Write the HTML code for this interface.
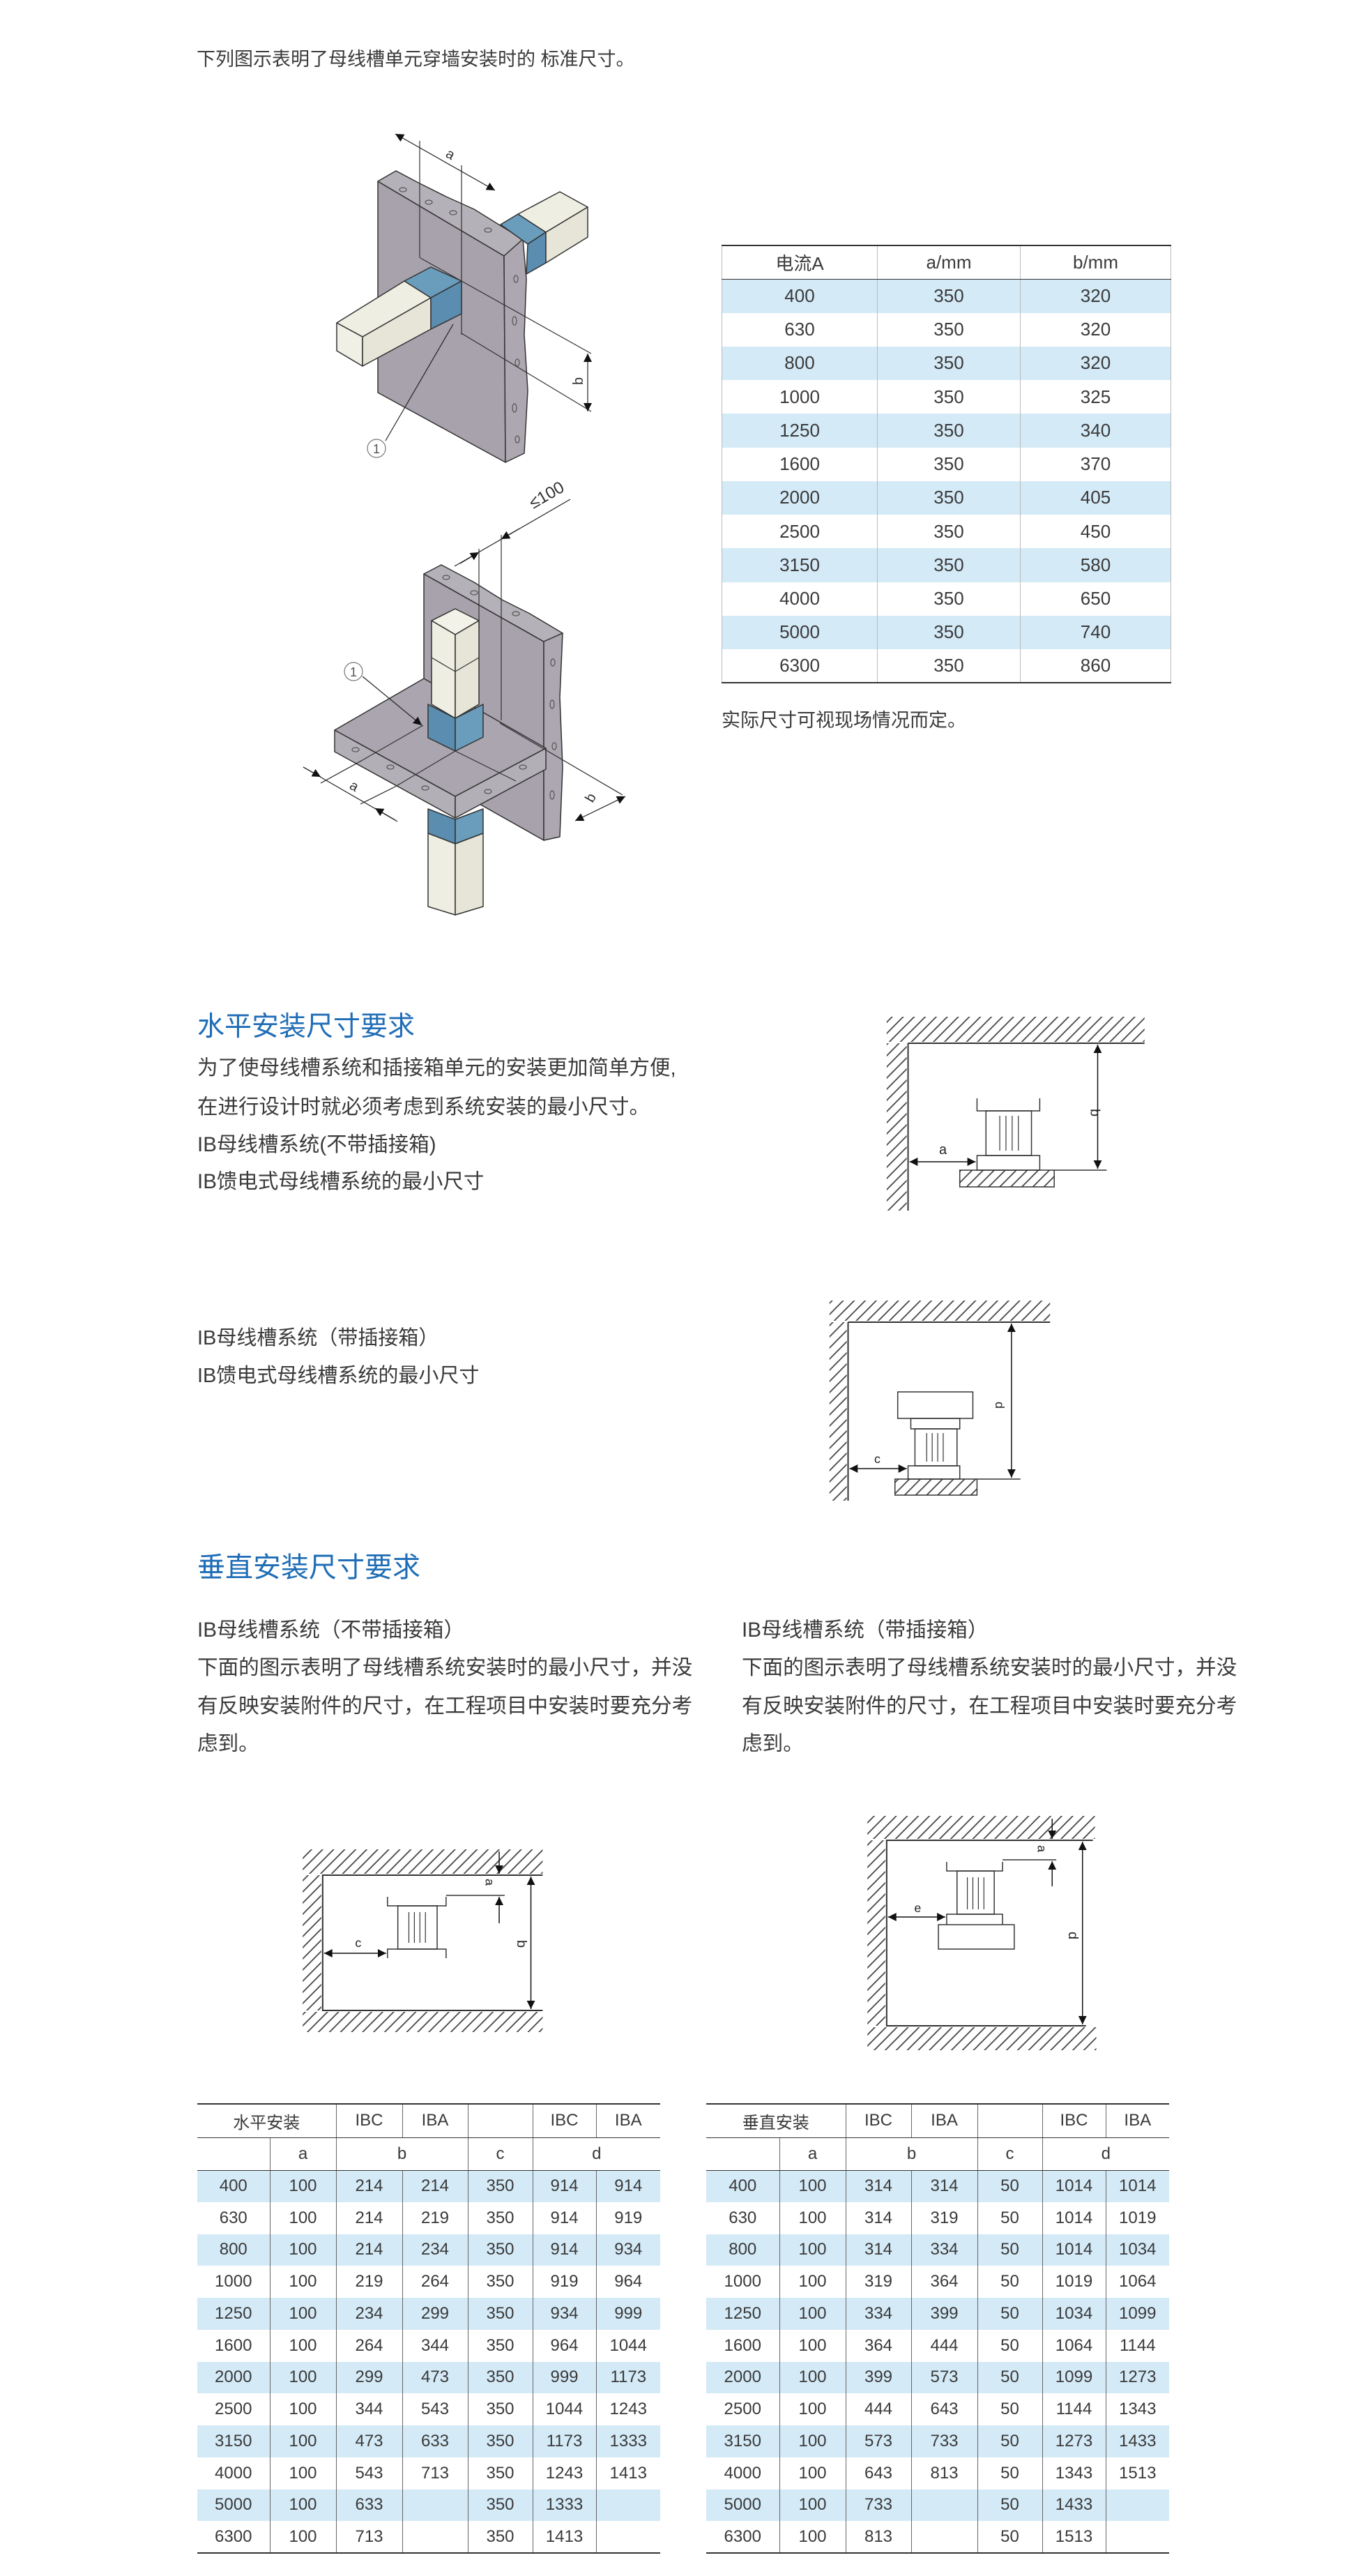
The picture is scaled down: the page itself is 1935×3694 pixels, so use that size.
<!DOCTYPE html>
<html><head><meta charset="utf-8">
<style>
*{margin:0;padding:0;box-sizing:border-box}
body{width:1935px;height:3694px;position:relative;background:#fff;font-family:"Liberation Sans","Noto Sans CJK SC",sans-serif;color:#3a3a3a;overflow:hidden}
.t{position:absolute;white-space:nowrap}
.h{color:#1f6db6}
table{position:absolute;border-collapse:collapse;table-layout:fixed;font-family:"Liberation Sans","Noto Sans CJK SC",sans-serif;color:#3a3a3a;text-align:center}
td{padding:0;border-left:1px solid #666;border-right:1px solid #666}
td:first-child{border-left:none}
tr td:last-child{border-right:none}
.b td{background:#d4eaf7}
#t1{left:1035px;top:351px;width:644px;font-size:26px;border-top:2px solid #333;border-bottom:2px solid #333}
#t1 tr{height:48.25px}
#t1 td{border-left:1px solid #bbb;border-right:1px solid #bbb}
#t1 tr.hd td{border-bottom:1px solid #333}
.bt{top:3016px;font-size:24px;border-top:2px solid #333;border-bottom:2px solid #333}
.bt tr{height:45.75px}
.bt tr.hd{height:48px}
.bt tr.hd td,.bt tr.sh td{border-bottom:1.5px solid #333}
.bt tr.sh{height:47px}
</style></head><body>

<div class="t" style="left:282px;top:68px;font-size:27px;line-height:34px">下列图示表明了母线槽单元穿墙安装时的 标准尺寸。</div>
<div class="t" style="left:1035px;top:1016px;font-size:27px;line-height:34px">实际尺寸可视现场情况而定。</div>

<div class="t h" style="left:283px;top:1450px;font-size:39px;line-height:46px">水平安装尺寸要求</div>
<div class="t" style="left:283px;top:1515px;font-size:29.5px;line-height:34px">为了使母线槽系统和插接箱单元的安装更加简单方便,</div>
<div class="t" style="left:283px;top:1571px;font-size:29.5px;line-height:34px">在进行设计时就必须考虑到系统安装的最小尺寸。</div>
<div class="t" style="left:283px;top:1625px;font-size:29.5px;line-height:34px">IB母线槽系统(不带插接箱)</div>
<div class="t" style="left:283px;top:1678px;font-size:29.5px;line-height:34px">IB馈电式母线槽系统的最小尺寸</div>
<div class="t" style="left:283px;top:1902px;font-size:29px;line-height:34px">IB母线槽系统（带插接箱）</div>
<div class="t" style="left:283px;top:1956px;font-size:29px;line-height:34px">IB馈电式母线槽系统的最小尺寸</div>

<div class="t h" style="left:283px;top:2225px;font-size:40px;line-height:46px">垂直安装尺寸要求</div>
<div class="t" style="left:283px;top:2320px;font-size:29.6px;line-height:36px">IB母线槽系统（不带插接箱）</div>
<div class="t" style="left:283px;top:2374px;font-size:29.6px;line-height:36px">下面的图示表明了母线槽系统安装时的最小尺寸，并没</div>
<div class="t" style="left:283px;top:2429px;font-size:29.6px;line-height:36px">有反映安装附件的尺寸，在工程项目中安装时要充分考</div>
<div class="t" style="left:283px;top:2483px;font-size:29.6px;line-height:36px">虑到。</div>
<div class="t" style="left:1064px;top:2320px;font-size:29.6px;line-height:36px">IB母线槽系统（带插接箱）</div>
<div class="t" style="left:1064px;top:2374px;font-size:29.6px;line-height:36px">下面的图示表明了母线槽系统安装时的最小尺寸，并没</div>
<div class="t" style="left:1064px;top:2429px;font-size:29.6px;line-height:36px">有反映安装附件的尺寸，在工程项目中安装时要充分考</div>
<div class="t" style="left:1064px;top:2483px;font-size:29.6px;line-height:36px">虑到。</div>

<table id="t1">
<colgroup><col style="width:223px"><col style="width:205px"><col style="width:216px"></colgroup>
<tr class="hd"><td>电流A</td><td>a/mm</td><td>b/mm</td></tr>
<tr class="b"><td>400</td><td>350</td><td>320</td></tr>
<tr><td>630</td><td>350</td><td>320</td></tr>
<tr class="b"><td>800</td><td>350</td><td>320</td></tr>
<tr><td>1000</td><td>350</td><td>325</td></tr>
<tr class="b"><td>1250</td><td>350</td><td>340</td></tr>
<tr><td>1600</td><td>350</td><td>370</td></tr>
<tr class="b"><td>2000</td><td>350</td><td>405</td></tr>
<tr><td>2500</td><td>350</td><td>450</td></tr>
<tr class="b"><td>3150</td><td>350</td><td>580</td></tr>
<tr><td>4000</td><td>350</td><td>650</td></tr>
<tr class="b"><td>5000</td><td>350</td><td>740</td></tr>
<tr><td>6300</td><td>350</td><td>860</td></tr>
</table>

<table class="bt" style="left:283px;width:664px">
<colgroup><col style="width:104px"><col style="width:95px"><col style="width:95px"><col style="width:94px"><col style="width:93px"><col style="width:91px"><col style="width:92px"></colgroup>
<tr class="hd"><td colspan="2">水平安装</td><td>IBC</td><td>IBA</td><td></td><td>IBC</td><td>IBA</td></tr>
<tr class="sh"><td></td><td>a</td><td colspan="2">b</td><td>c</td><td colspan="2">d</td></tr>
<tr class="b"><td>400</td><td>100</td><td>214</td><td>214</td><td>350</td><td>914</td><td>914</td></tr>
<tr><td>630</td><td>100</td><td>214</td><td>219</td><td>350</td><td>914</td><td>919</td></tr>
<tr class="b"><td>800</td><td>100</td><td>214</td><td>234</td><td>350</td><td>914</td><td>934</td></tr>
<tr><td>1000</td><td>100</td><td>219</td><td>264</td><td>350</td><td>919</td><td>964</td></tr>
<tr class="b"><td>1250</td><td>100</td><td>234</td><td>299</td><td>350</td><td>934</td><td>999</td></tr>
<tr><td>1600</td><td>100</td><td>264</td><td>344</td><td>350</td><td>964</td><td>1044</td></tr>
<tr class="b"><td>2000</td><td>100</td><td>299</td><td>473</td><td>350</td><td>999</td><td>1173</td></tr>
<tr><td>2500</td><td>100</td><td>344</td><td>543</td><td>350</td><td>1044</td><td>1243</td></tr>
<tr class="b"><td>3150</td><td>100</td><td>473</td><td>633</td><td>350</td><td>1173</td><td>1333</td></tr>
<tr><td>4000</td><td>100</td><td>543</td><td>713</td><td>350</td><td>1243</td><td>1413</td></tr>
<tr class="b"><td>5000</td><td>100</td><td>633</td><td></td><td>350</td><td>1333</td><td></td></tr>
<tr><td>6300</td><td>100</td><td>713</td><td></td><td>350</td><td>1413</td><td></td></tr>
</table>

<table class="bt" style="left:1013px;width:664px">
<colgroup><col style="width:105px"><col style="width:95px"><col style="width:94px"><col style="width:95px"><col style="width:93px"><col style="width:91px"><col style="width:91px"></colgroup>
<tr class="hd"><td colspan="2">垂直安装</td><td>IBC</td><td>IBA</td><td></td><td>IBC</td><td>IBA</td></tr>
<tr class="sh"><td></td><td>a</td><td colspan="2">b</td><td>c</td><td colspan="2">d</td></tr>
<tr class="b"><td>400</td><td>100</td><td>314</td><td>314</td><td>50</td><td>1014</td><td>1014</td></tr>
<tr><td>630</td><td>100</td><td>314</td><td>319</td><td>50</td><td>1014</td><td>1019</td></tr>
<tr class="b"><td>800</td><td>100</td><td>314</td><td>334</td><td>50</td><td>1014</td><td>1034</td></tr>
<tr><td>1000</td><td>100</td><td>319</td><td>364</td><td>50</td><td>1019</td><td>1064</td></tr>
<tr class="b"><td>1250</td><td>100</td><td>334</td><td>399</td><td>50</td><td>1034</td><td>1099</td></tr>
<tr><td>1600</td><td>100</td><td>364</td><td>444</td><td>50</td><td>1064</td><td>1144</td></tr>
<tr class="b"><td>2000</td><td>100</td><td>399</td><td>573</td><td>50</td><td>1099</td><td>1273</td></tr>
<tr><td>2500</td><td>100</td><td>444</td><td>643</td><td>50</td><td>1144</td><td>1343</td></tr>
<tr class="b"><td>3150</td><td>100</td><td>573</td><td>733</td><td>50</td><td>1273</td><td>1433</td></tr>
<tr><td>4000</td><td>100</td><td>643</td><td>813</td><td>50</td><td>1343</td><td>1513</td></tr>
<tr class="b"><td>5000</td><td>100</td><td>733</td><td></td><td>50</td><td>1433</td><td></td></tr>
<tr><td>6300</td><td>100</td><td>813</td><td></td><td>50</td><td>1513</td><td></td></tr>
</table>

<svg width="1935" height="3694" style="position:absolute;left:0;top:0" xmlns="http://www.w3.org/2000/svg" font-family="Liberation Sans, sans-serif">
<defs>
<pattern id="hp" width="16" height="16" patternUnits="userSpaceOnUse">
<line x1="0" y1="16" x2="16" y2="0" stroke="#444" stroke-width="1.8"/>
<line x1="-4" y1="4" x2="4" y2="-4" stroke="#444" stroke-width="1.8"/>
<line x1="12" y1="20" x2="20" y2="12" stroke="#444" stroke-width="1.8"/>
</pattern>
<marker id="ar2" viewBox="0 0 10 10" refX="10" refY="5" markerWidth="20" markerHeight="12" orient="auto-start-reverse" markerUnits="userSpaceOnUse"><path d="M0,0L10,5L0,10z" fill="#111"/></marker>
</defs>

<!-- ===== Top isometric drawing ===== -->
<g stroke="#333" stroke-width="1.5" stroke-linejoin="round">
<polygon points="542,260 723,367 725,663 542,563" fill="#a7a2ab"/>
<polygon points="542,260 568,245 600,262 640,282 680,300 717,323 750,343 723,367" fill="#b5b1b8"/>
<polygon points="723,367 750,343 755,400 752,480 757,560 752,650 725,663" fill="#aca7b0"/>
<line x1="603" y1="370" x2="848" y2="507" stroke-width="1.2"/>
<line x1="662" y1="478" x2="848" y2="590" stroke-width="1.2"/>
<line x1="602" y1="202" x2="602" y2="370" stroke-width="1.2"/>
<line x1="662" y1="237" x2="662" y2="480" stroke-width="1.2"/>
<polygon points="483,463 580,403 618,427 520,483" fill="#efeee3"/>
<polygon points="483,463 520,483 520,525 483,503" fill="#f1f0e6"/>
<polygon points="520,483 618,427 618,472 520,525" fill="#e6e5d8"/>
<polygon points="580,403 618,383 662,403 618,427" fill="#6a9cbc"/>
<polygon points="618,427 662,403 662,450 618,472" fill="#5a8daf"/>
<polygon points="718,322 743,307 783,333 757,350" fill="#6a9cbc"/>
<polygon points="757,350 783,333 783,377 755,393" fill="#5a8daf"/>
<polygon points="743,307 803,275 843,297 783,333" fill="#efeee3"/>
<polygon points="783,333 843,297 843,340 783,377" fill="#e6e5d8"/>
</g>
<g fill="none" stroke="#555" stroke-width="1.2">
<ellipse cx="578" cy="272" rx="5" ry="3"/><ellipse cx="615" cy="290" rx="5" ry="3"/><ellipse cx="650" cy="305" rx="5" ry="3"/><ellipse cx="700" cy="330" rx="5" ry="3"/>
<ellipse cx="740" cy="400" rx="3" ry="5"/><ellipse cx="738" cy="460" rx="3" ry="6"/><ellipse cx="742" cy="520" rx="3" ry="5"/><ellipse cx="738" cy="585" rx="3" ry="6"/><ellipse cx="742" cy="630" rx="3" ry="5"/>
</g>
<g stroke="#222" stroke-width="1.2" fill="none">
<line x1="567" y1="192" x2="710" y2="273" marker-start="url(#ar2)" marker-end="url(#ar2)"/>
<line x1="843" y1="507" x2="843" y2="590" marker-start="url(#ar2)" marker-end="url(#ar2)"/>
<line x1="553" y1="632" x2="650" y2="465"/>
<circle cx="540" cy="643" r="13" stroke="#777"/>
</g>
<text x="638" y="224" font-size="20" fill="#333" transform="rotate(30 638 224)">a</text>
<text x="836" y="552" font-size="20" fill="#333" transform="rotate(-90 836 552)">b</text>
<text x="540" y="650" font-size="18" fill="#555" text-anchor="middle">1</text>

<!-- ===== Bottom isometric drawing ===== -->
<g stroke="#333" stroke-width="1.5" stroke-linejoin="round">
<polygon points="608,823 780,920 780,1205 608,1108" fill="#a7a2ab"/>
<polygon points="608,823 633,810 680,835 720,860 760,880 807,908 780,920" fill="#b5b1b8"/>
<polygon points="780,920 807,908 803,1000 807,1100 803,1200 780,1205" fill="#aca7b0"/>
<line x1="687" y1="787" x2="687" y2="900" stroke-width="1.2"/>
<line x1="719" y1="767" x2="719" y2="1033" stroke-width="1.2"/>
<polygon points="614,1160 653,1175 653,1210 614,1195" fill="#5a8daf"/>
<polygon points="653,1175 693,1160 693,1195 653,1210" fill="#6a9cbc"/>
<polygon points="614,1195 653,1210 653,1312 614,1300" fill="#efeee3"/>
<polygon points="653,1210 693,1195 693,1300 653,1312" fill="#e6e5d8"/>
<polygon points="480,1047 608,973 783,1073 653,1142" fill="#aaa5ae"/>
<polygon points="480,1047 653,1142 653,1173 480,1078" fill="#b3afb6"/>
<polygon points="653,1142 783,1073 783,1103 653,1173" fill="#b3afb6"/>
<line x1="653" y1="1077" x2="567" y2="1128" stroke-width="1.2"/>
<line x1="653" y1="1077" x2="740" y2="1120" stroke-width="1.2"/>
<line x1="607" y1="1040" x2="520" y2="1090" stroke-width="1.2"/>
<line x1="717" y1="1037" x2="893" y2="1140" stroke-width="1.2"/>
<polygon points="619,890 653,873 687,890 653,910" fill="#f3f2e8"/>
<polygon points="619,890 653,910 653,1030 619,1010" fill="#efeee3"/>
<polygon points="653,910 687,890 687,1010 653,1030" fill="#e6e5d8"/>
<polyline points="619,943 653,963 687,943" fill="none" stroke-width="1.2"/>
<polygon points="614,1010 653,1030 653,1077 614,1058" fill="#5a8daf"/>
<polygon points="653,1030 693,1010 693,1057 653,1077" fill="#6a9cbc"/>
</g>
<g fill="none" stroke="#555" stroke-width="1.2">
<ellipse cx="640" cy="828" rx="5" ry="3"/><ellipse cx="680" cy="850" rx="5" ry="3"/><ellipse cx="740" cy="880" rx="5" ry="3"/>
<ellipse cx="793" cy="950" rx="3" ry="5"/><ellipse cx="792" cy="1010" rx="3" ry="6"/><ellipse cx="795" cy="1070" rx="3" ry="5"/><ellipse cx="792" cy="1140" rx="3" ry="6"/>
<ellipse cx="510" cy="1075" rx="5" ry="3"/><ellipse cx="560" cy="1100" rx="5" ry="3"/><ellipse cx="610" cy="1130" rx="5" ry="3"/><ellipse cx="700" cy="1135" rx="5" ry="3"/><ellipse cx="750" cy="1100" rx="5" ry="3"/>
</g>
<g stroke="#222" stroke-width="1.2" fill="none">
<line x1="652" y1="812" x2="818" y2="716"/>
<line x1="660" y1="808" x2="687" y2="792" marker-end="url(#ar2)"/>
<line x1="745" y1="758" x2="719" y2="773" marker-end="url(#ar2)"/>
<line x1="435" y1="1100" x2="570" y2="1178"/>
<line x1="435" y1="1100" x2="460" y2="1114" marker-end="url(#ar2)"/>
<line x1="567" y1="1176" x2="538" y2="1159" marker-end="url(#ar2)"/>
<line x1="460" y1="1123" x2="520" y2="1090"/>
<line x1="517" y1="1153" x2="567" y2="1128"/>
<line x1="825" y1="1177" x2="897" y2="1142" marker-start="url(#ar2)" marker-end="url(#ar2)"/>
<line x1="520" y1="970" x2="605" y2="1040" marker-end="url(#ar2)"/>
<circle cx="507" cy="963" r="13" stroke="#777"/>
</g>
<text x="765" y="730" font-size="24" fill="#333" transform="rotate(-30 765 730)">≤100</text>
<text x="500" y="1130" font-size="20" fill="#333" transform="rotate(30 500 1130)">a</text>
<text x="850" y="1152" font-size="20" fill="#333" transform="rotate(-60 850 1152)">b</text>
<text x="507" y="970" font-size="18" fill="#555" text-anchor="middle">1</text>

<g transform="matrix(0.989,0,0,1,0,0)">
<!-- ===== Schematic 1 ===== -->
<rect x="1286" y="1458" width="374" height="36" fill="url(#hp)"/>
<rect x="1286" y="1496" width="29" height="240" fill="url(#hp)"/>
<g stroke="#333" stroke-width="2" fill="none">
<line x1="1317" y1="1496" x2="1660" y2="1496"/>
<line x1="1317" y1="1496" x2="1317" y2="1736"/>
<polyline points="1417,1575 1417,1593 1508,1593 1508,1575" stroke-width="1.5"/>
<rect x="1430" y="1593" width="66" height="64" stroke-width="1.5"/>
<line x1="1450" y1="1600" x2="1450" y2="1650" stroke-width="1.2"/><line x1="1459" y1="1600" x2="1459" y2="1650" stroke-width="1.2"/><line x1="1468" y1="1600" x2="1468" y2="1650" stroke-width="1.2"/><line x1="1477" y1="1600" x2="1477" y2="1650" stroke-width="1.2"/>
<rect x="1417" y="1657" width="91" height="21" stroke-width="1.5"/>
<line x1="1529" y1="1678" x2="1605" y2="1678" stroke-width="1.5"/>
</g>
<rect x="1392" y="1678" width="137" height="24" fill="url(#hp)" stroke="#333" stroke-width="1.5"/>
<g stroke="#111" stroke-width="1.5">
<line x1="1319" y1="1666" x2="1415" y2="1666" marker-start="url(#ar2)" marker-end="url(#ar2)"/>
<line x1="1592" y1="1498" x2="1592" y2="1676" marker-start="url(#ar2)" marker-end="url(#ar2)"/>
</g>
<text x="1362" y="1655" font-size="20" fill="#222">a</text>
<text x="1582" y="1590" font-size="20" fill="#222" transform="rotate(90 1582 1590)">b</text>

<!-- ===== Schematic 2 ===== -->
<rect x="1203" y="1865" width="320" height="29" fill="url(#hp)"/>
<rect x="1203" y="1896" width="25" height="256" fill="url(#hp)"/>
<g stroke="#333" stroke-width="2" fill="none">
<line x1="1230" y1="1896" x2="1523" y2="1896"/>
<line x1="1230" y1="1896" x2="1230" y2="2152"/>
<rect x="1302" y="1996" width="109" height="38" stroke-width="1.5"/>
<rect x="1321" y="2034" width="71" height="15" stroke-width="1.5"/>
<rect x="1327" y="2049" width="61" height="53" stroke-width="1.5"/>
<line x1="1344" y1="2055" x2="1344" y2="2096" stroke-width="1.2"/><line x1="1352" y1="2055" x2="1352" y2="2096" stroke-width="1.2"/><line x1="1360" y1="2055" x2="1360" y2="2096" stroke-width="1.2"/><line x1="1368" y1="2055" x2="1368" y2="2096" stroke-width="1.2"/>
<rect x="1317" y="2102" width="75" height="19" stroke-width="1.5"/>
<line x1="1417" y1="2121" x2="1480" y2="2121" stroke-width="1.5"/>
</g>
<rect x="1298" y="2121" width="119" height="23" fill="url(#hp)" stroke="#333" stroke-width="1.5"/>
<g stroke="#111" stroke-width="1.5">
<line x1="1232" y1="2106" x2="1315" y2="2106" marker-start="url(#ar2)" marker-end="url(#ar2)"/>
<line x1="1467" y1="1898" x2="1467" y2="2119" marker-start="url(#ar2)" marker-end="url(#ar2)"/>
</g>
<text x="1268" y="2098" font-size="18" fill="#222">c</text>
<text x="1444" y="2010" font-size="18" fill="#222" transform="rotate(90 1444 2010)">d</text>

<!-- ===== Schematic 3 ===== -->
<rect x="439" y="2652" width="348" height="35" fill="url(#hp)"/>
<rect x="439" y="2689" width="27" height="194" fill="url(#hp)"/>
<rect x="439" y="2885" width="348" height="29" fill="url(#hp)"/>
<g stroke="#333" stroke-width="2" fill="none">
<polyline points="787,2689 468,2689 468,2883 787,2883"/>
<polyline points="562,2720 562,2733 647,2733 647,2720" stroke-width="1.5"/>
<rect x="577" y="2733" width="57" height="62" stroke-width="1.5"/>
<line x1="593" y1="2742" x2="593" y2="2786" stroke-width="1.2"/><line x1="601" y1="2742" x2="601" y2="2786" stroke-width="1.2"/><line x1="609" y1="2742" x2="609" y2="2786" stroke-width="1.2"/><line x1="617" y1="2742" x2="617" y2="2786" stroke-width="1.2"/>
<polyline points="562,2808 562,2795 647,2795 647,2808" stroke-width="1.5"/>
<line x1="647" y1="2718" x2="732" y2="2718" stroke-width="1.5"/>
</g>
<g stroke="#111" stroke-width="1.5">
<line x1="470" y1="2801" x2="560" y2="2801" marker-start="url(#ar2)" marker-end="url(#ar2)"/>
<line x1="724" y1="2655" x2="724" y2="2687" marker-end="url(#ar2)"/>
<line x1="724" y1="2758" x2="724" y2="2720" marker-end="url(#ar2)"/>
<line x1="770" y1="2691" x2="770" y2="2881" marker-start="url(#ar2)" marker-end="url(#ar2)"/>
</g>
<text x="515" y="2792" font-size="18" fill="#222">c</text>
<text x="704" y="2694" font-size="18" fill="#222" transform="rotate(90 704 2694)">a</text>
<text x="750" y="2782" font-size="20" fill="#222" transform="rotate(90 750 2782)">b</text>

<!-- ===== Schematic 4 ===== -->
<rect x="1258" y="2604" width="330" height="33" fill="url(#hp)"/>
<rect x="1258" y="2639" width="26" height="266" fill="url(#hp)"/>
<rect x="1258" y="2907" width="332" height="33" fill="url(#hp)"/>
<g stroke="#333" stroke-width="2" fill="none">
<polyline points="1585,2639 1286,2639 1286,2905 1575,2905"/>
<polyline points="1373,2670 1373,2683 1454,2683 1454,2670" stroke-width="1.5"/>
<rect x="1388" y="2683" width="54" height="62" stroke-width="1.5"/>
<line x1="1403" y1="2692" x2="1403" y2="2738" stroke-width="1.2"/><line x1="1411" y1="2692" x2="1411" y2="2738" stroke-width="1.2"/><line x1="1419" y1="2692" x2="1419" y2="2738" stroke-width="1.2"/><line x1="1427" y1="2692" x2="1427" y2="2738" stroke-width="1.2"/>
<polyline points="1373,2760 1373,2745 1454,2745 1454,2760" stroke-width="1.5"/>
<rect x="1361" y="2760" width="110" height="35" stroke-width="1.5"/>
<line x1="1454" y1="2667" x2="1532" y2="2667" stroke-width="1.5"/>
</g>
<g stroke="#111" stroke-width="1.5">
<line x1="1288" y1="2749" x2="1371" y2="2749" marker-start="url(#ar2)" marker-end="url(#ar2)"/>
<line x1="1526" y1="2608" x2="1526" y2="2637" marker-end="url(#ar2)"/>
<line x1="1526" y1="2705" x2="1526" y2="2669" marker-end="url(#ar2)"/>
<line x1="1570" y1="2641" x2="1570" y2="2903" marker-start="url(#ar2)" marker-end="url(#ar2)"/>
</g>
<text x="1326" y="2742" font-size="18" fill="#222">e</text>
<text x="1505" y="2646" font-size="18" fill="#222" transform="rotate(90 1505 2646)">a</text>
<text x="1550" y="2770" font-size="20" fill="#222" transform="rotate(90 1550 2770)">d</text>
</g>
</svg>
</body></html>
